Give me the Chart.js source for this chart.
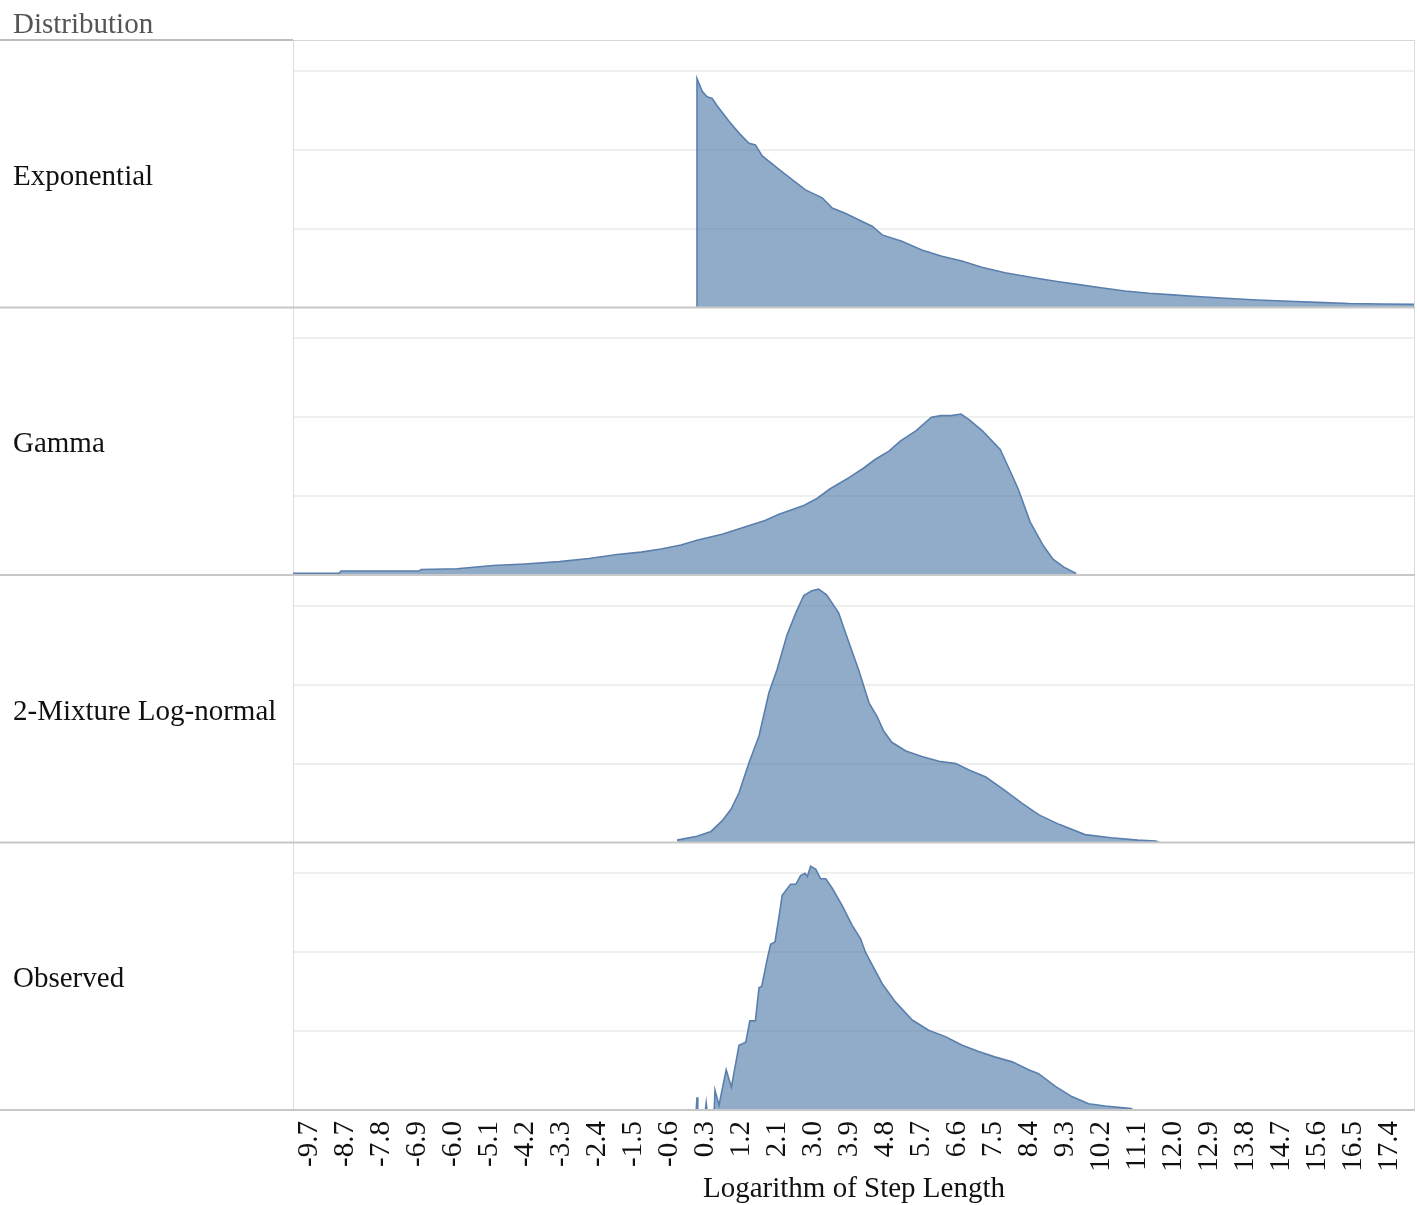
<!DOCTYPE html>
<html>
<head>
<meta charset="utf-8">
<title>Distribution of log step length</title>
<script src="https://cdn.jsdelivr.net/npm/chart.js@4.4.1/dist/chart.umd.min.js"></script>
<style>
  body { margin: 0; background: #fff; }
  #wrap { position: relative; width: 1417px; height: 1205px; }
  #title { position: absolute; left: 13px; top: 6px; line-height: 34px; font-size: 29px;
           font-family: 'Liberation Serif', 'Times New Roman', serif; color: #555; }
  .lbl { position: absolute; left: 13px; line-height: 34px; font-size: 29px; white-space: nowrap;
         font-family: 'Liberation Serif', 'Times New Roman', serif; color: #111; transform: translateY(-50%); }
</style>
</head>
<body>
<div id="wrap">
  <canvas id="chart" width="1417" height="1205"></canvas>
  <div id="title">Distribution</div>
</div>
<script>
// panel names (top to bottom)
const panelNames = ['Exponential', 'Gamma', '2-Mixture Log-normal', 'Observed'];

// x axis tick labels (log of step length)
const tickLabels = ['-9.7','-8.7','-7.8','-6.9','-6.0','-5.1','-4.2','-3.3','-2.4','-1.5','-0.6',
  '0.3','1.2','2.1','3.0','3.9','4.8','5.7','6.6','7.5','8.4','9.3','10.2','11.1','12.0',
  '12.9','13.8','14.7','15.6','16.5','17.4'];
const tickStart = -9.7, tickStep = 0.9;
const xMin = -10.1, xMax = 17.95;
const yMax = 3.39; // density in grid units, gridlines at 1, 2, 3

// Exponential
const expX = [0, 0, 0.13, 0.25, 0.38, 0.51, 0.8, 1.05, 1.3, 1.46, 1.63, 2.05, 2.38, 2.71, 3.13, 3.38, 3.72, 4.05,
  4.38, 4.63, 5.12, 5.62, 6.12, 6.62, 7.12, 7.7, 8.38, 9.0, 9.55, 10.1, 10.7, 11.3, 11.9, 12.5, 13.1, 14.0, 14.8,
  15.5, 16.3, 17.1, 17.95];
const expY = [0, 2.90, 2.74, 2.67, 2.65, 2.55, 2.36, 2.21, 2.08, 2.06, 1.92, 1.75, 1.62, 1.49, 1.39, 1.26, 1.19, 1.11,
  1.03, 0.92, 0.84, 0.73, 0.65, 0.59, 0.51, 0.44, 0.38, 0.33, 0.29, 0.25, 0.21, 0.18, 0.16, 0.14, 0.12, 0.095, 0.08,
  0.065, 0.05, 0.045, 0.04];

// Gamma
const gamX = [-10.1, -8.95, -8.9, -6.95, -6.9, -6.0, -5.1, -4.3, -3.44, -2.7, -2.0, -1.4, -0.9, -0.4, 0.0, 0.65,
  1.27, 1.7, 2.05, 2.67, 3.0, 3.32, 3.82, 4.15, 4.47, 4.8, 5.09, 5.48, 5.86, 6.1, 6.36, 6.6, 6.8, 7.13, 7.58,
  7.8, 8.03, 8.33, 8.66, 8.9, 9.17, 9.48];
const gamY = [0.02, 0.02, 0.05, 0.05, 0.07, 0.08, 0.12, 0.14, 0.17, 0.21, 0.26, 0.29, 0.33, 0.38, 0.44, 0.52,
  0.62, 0.69, 0.77, 0.88, 0.97, 1.09, 1.24, 1.35, 1.47, 1.57, 1.70, 1.83, 2.00, 2.02, 2.02, 2.04, 1.97, 1.83, 1.59,
  1.35, 1.09, 0.67, 0.37, 0.20, 0.10, 0.02];

// 2-Mixture Log-normal
const mixX = [-0.5, 0.0, 0.35, 0.62, 0.85, 1.05, 1.3, 1.55, 1.8, 2.0, 2.25, 2.47, 2.67, 2.87, 3.04, 3.24, 3.54,
  3.8, 4.04, 4.3, 4.5, 4.67, 4.87, 5.22, 5.62, 6.05, 6.47, 6.8, 7.22, 7.72, 8.12, 8.55, 9.05, 9.7, 10.35,
  11.02, 11.47, 11.55];
const mixY = [0.03, 0.08, 0.14, 0.27, 0.42, 0.63, 1.01, 1.35, 1.90, 2.19, 2.63, 2.91, 3.13, 3.19, 3.21, 3.14, 2.91,
  2.53, 2.19, 1.77, 1.60, 1.41, 1.27, 1.16, 1.09, 1.03, 1.00, 0.92, 0.83, 0.65, 0.50, 0.35, 0.23, 0.10, 0.06,
  0.03, 0.02, 0];

// Observed
const obsX = [-0.02, 0.0, 0.02, 0.21, 0.23, 0.25, 0.43, 0.45, 0.55, 0.73, 0.86, 1.05, 1.22, 1.32, 1.46, 1.55, 1.62,
  1.75, 1.84, 1.95, 2.05, 2.13, 2.34, 2.47, 2.59, 2.7, 2.76, 2.84, 2.97, 3.09, 3.22, 3.38, 3.63, 3.88, 4.09,
  4.21, 4.38, 4.63, 4.96, 5.38, 5.79, 6.21, 6.63, 7.04, 7.46, 7.88, 8.29, 8.54, 8.96, 9.37, 9.79, 10.2, 10.6,
  10.85, 10.9];
const obsY = [0, 0.16, 0, 0, 0.09, 0, 0, 0.25, 0.06, 0.51, 0.29, 0.82, 0.86, 1.13, 1.13, 1.55, 1.57,
  1.90, 2.10, 2.13, 2.45, 2.72, 2.86, 2.86, 2.97, 3.00, 2.96, 3.09, 3.05, 2.93, 2.93, 2.81, 2.59, 2.34, 2.17,
  2.00, 1.84, 1.60, 1.37, 1.14, 1.01, 0.93, 0.82, 0.74, 0.67, 0.61, 0.51, 0.46, 0.30, 0.17, 0.08, 0.05, 0.03,
  0.02, 0];

const seriesX = [expX, gamX, mixX, obsX];
const seriesY = [expY, gamY, mixY, obsY];
const axisIds = ['yExp', 'yGamma', 'yMix', 'yObs'];

const FONT = "'Liberation Serif', 'Times New Roman', serif";
Chart.defaults.font.family = FONT;

const datasets = axisIds.map((id, i) => ({
  label: panelNames[i],
  yAxisID: id,
  data: seriesX[i].map((x, k) => ({ x: x, y: seriesY[i][k] })),
  borderColor: '#5a7fae',
  borderWidth: 1.6,
  backgroundColor: 'rgba(78,121,167,0.62)',
  fill: 'origin',
  pointRadius: 0,
  tension: 0
}));

const scales = {
  x: {
    type: 'linear',
    position: 'bottom',
    min: xMin,
    max: xMax,
    afterBuildTicks: axis => {
      axis.ticks = tickLabels.map((t, i) => ({ value: tickStart + i * tickStep }));
    },
    afterFit: axis => {
      axis.height = 95;
      axis.paddingLeft = 0;
      axis.paddingRight = 0;
    },
    grid: { display: false },
    border: { display: false },
    ticks: {
      autoSkip: false,
      minRotation: 90,
      maxRotation: 90,
      padding: 3,
      color: '#111',
      font: { size: 29 },
      callback: (v, i) => tickLabels[i]
    },
    title: {
      display: true,
      text: 'Logarithm of Step Length',
      color: '#111',
      font: { size: 29 },
      padding: { top: 0, bottom: -2 }
    }
  }
};
axisIds.forEach((id, i) => {
  scales[id] = {
    type: 'linear',
    position: 'left',
    stack: 'panels',
    stackWeight: 1,
    weight: axisIds.length - i,
    min: 0,
    max: yMax,
    afterFit: axis => { axis.width = 293; },
    ticks: { display: false, stepSize: 1 },
    grid: {
      drawTicks: false,
      lineWidth: 2,
      color: c => (c.tick && c.tick.value > 0 && Number.isInteger(c.tick.value)) ? '#efefef' : 'rgba(0,0,0,0)'
    },
    border: { display: true, color: '#dcdcdc', width: 1 }
  };
});

const frame = {
  id: 'frame',
  afterDraw(chart) {
    const c = chart.ctx, a = chart.chartArea;
    c.save();
    // header underline and top border
    c.strokeStyle = '#bdbdbd'; c.lineWidth = 2;
    c.beginPath(); c.moveTo(0, a.top); c.lineTo(a.left, a.top); c.stroke();
    c.strokeStyle = '#d6d6d6'; c.lineWidth = 1;
    c.beginPath(); c.moveTo(a.left, a.top + 0.5); c.lineTo(a.right, a.top + 0.5); c.stroke();
    // right border
    c.strokeStyle = '#dcdcdc';
    c.beginPath(); c.moveTo(a.right - 0.5, a.top); c.lineTo(a.right - 0.5, a.bottom); c.stroke();
    // panel dividers
    c.strokeStyle = '#c8c8c8'; c.lineWidth = 2;
    axisIds.forEach(id => {
      const b = chart.scales[id].bottom;
      c.beginPath(); c.moveTo(0, b); c.lineTo(a.right, b); c.stroke();
    });
    c.restore();
  }
};

const chart = new Chart(document.getElementById('chart'), {
  type: 'line',
  data: { datasets: datasets },
  options: {
    responsive: false,
    animation: false,
    layout: { padding: { top: 40, right: 2, left: 0, bottom: 0 } },
    plugins: { legend: { display: false }, tooltip: { enabled: false } },
    scales: scales
  },
  plugins: [frame]
});

// panel labels in the left column, centred on each panel
const wrap = document.getElementById('wrap');
axisIds.forEach((id, i) => {
  const s = chart.scales[id];
  const d = document.createElement('div');
  d.className = 'lbl';
  d.textContent = panelNames[i];
  d.style.top = ((s.top + s.bottom) / 2 + 1) + 'px';
  wrap.appendChild(d);
});
</script>
</body>
</html>
